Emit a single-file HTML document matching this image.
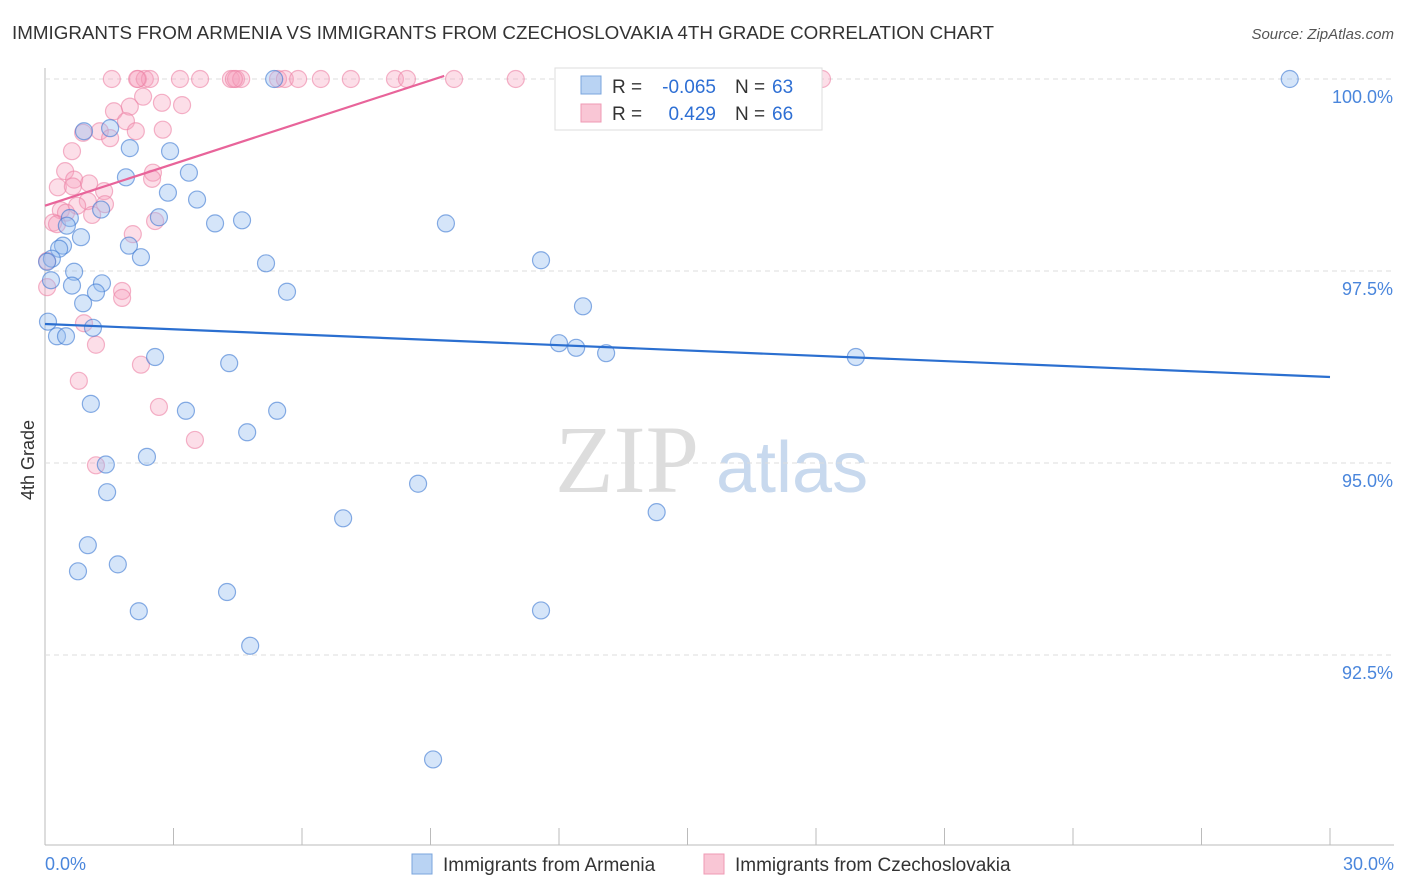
<!DOCTYPE html>
<html><head><meta charset="utf-8"><style>
body{margin:0;background:#fff;font-family:"Liberation Sans",sans-serif;}
#wrap{position:relative;width:1406px;height:892px;overflow:hidden;}
</style></head><body>
<div id="wrap">
<svg id="chart" width="1406" height="892">
<text x="12" y="39" font-size="18.8" fill="#333">IMMIGRANTS FROM ARMENIA VS IMMIGRANTS FROM CZECHOSLOVAKIA 4TH GRADE CORRELATION CHART</text>
<text x="1394" y="39" font-size="15" fill="#555" font-style="italic" text-anchor="end">Source: ZipAtlas.com</text>
<text x="34" y="460" font-size="18" fill="#333" transform="rotate(-90 34 460)" text-anchor="middle">4th Grade</text>
<text x="555" y="492" font-size="96" fill="#ddd" font-family="Liberation Serif,serif">ZIP</text>
<text x="716" y="492" font-size="72" fill="#c8d9ee">atlas</text>
<g id="grid"></g><g id="pts"></g><g id="lines"></g>
<g>
<rect x="555" y="68" width="267" height="62" fill="#fff" stroke="#ddd"/>
<rect x="581" y="76" width="20" height="18" fill="#b9d3f3" stroke="#7aa5dd"/>
<rect x="581" y="104" width="20" height="18" fill="#f9c6d5" stroke="#ef9ab4"/>
<text x="612" y="93" font-size="19" fill="#333">R =</text>
<text x="716" y="93" font-size="19" fill="#2e6fd4" text-anchor="end">-0.065</text>
<text x="735" y="93" font-size="19" fill="#333">N =</text>
<text x="772" y="93" font-size="19" fill="#2e6fd4">63</text>
<text x="612" y="120" font-size="19" fill="#333">R =</text>
<text x="716" y="120" font-size="19" fill="#2e6fd4" text-anchor="end">0.429</text>
<text x="735" y="120" font-size="19" fill="#333">N =</text>
<text x="772" y="120" font-size="19" fill="#2e6fd4">66</text>
</g>
<g>
<rect x="412" y="854" width="20" height="20" fill="#b9d3f3" stroke="#7aa5dd"/>
<text x="443" y="871" font-size="19" fill="#333">Immigrants from Armenia</text>
<rect x="704" y="854" width="20" height="20" fill="#f9c6d5" stroke="#ef9ab4"/>
<text x="735" y="871" font-size="19" fill="#333">Immigrants from Czechoslovakia</text>
</g>
</svg></div>
<script>
const xTickLabels=["0.0%","30.0%"];
const yTicks=[100,97.5,95,92.5];
const yTickLabels=["100.0%","97.5%","95.0%","92.5%"];
const blueX=[29.06,1.52,0.91,1.98,2.92,1.89,3.36,2.87,3.55,1.31,0.58,2.66,3.97,4.6,9.36,0.51,0.84,0.42,0.33,1.96,2.24,0.16,5.16,11.58,0.68,0.14,0.63,1.33,1.19,5.65,0.89,12.56,0.07,1.12,0.28,0.49,12.0,12.4,13.1,2.57,18.93,4.3,1.07,3.29,5.42,4.72,2.38,1.42,8.71,1.45,6.96,14.28,1.0,1.7,0.77,4.25,2.19,11.58,4.79,9.06,5.35,0.05];
const blueY=[100,99.36,99.32,99.1,99.06,98.72,98.78,98.52,98.43,98.3,98.19,98.2,98.12,98.16,98.12,98.09,97.94,97.83,97.79,97.83,97.68,97.66,97.6,97.64,97.49,97.38,97.31,97.34,97.22,97.23,97.08,97.04,96.84,96.76,96.65,96.65,96.56,96.5,96.43,96.38,96.38,96.3,95.77,95.68,95.68,95.4,95.08,94.98,94.73,94.62,94.28,94.36,93.93,93.68,93.59,93.32,93.07,93.08,92.62,91.14,100,97.62];
const pinkX=[1.56,2.17,2.33,2.45,3.15,3.62,4.34,4.46,4.58,5.44,5.6,5.91,6.44,7.14,8.17,8.45,9.55,10.99,18.14,2.29,1.98,2.73,3.2,1.61,1.89,1.28,2.75,2.12,0.89,1.52,0.63,2.52,0.47,2.5,0.68,1.03,0.3,0.65,1.38,1.0,1.4,0.75,0.37,0.49,1.1,2.57,0.19,0.28,2.05,0.05,1.8,1.8,0.91,1.19,2.24,0.79,2.66,3.5,1.19,0.05,2.15,4.41];
const pinkY=[100,100,100,100,100,100,100,100,100,100,100,100,100,100,100,100,100,100,100,99.77,99.64,99.69,99.66,99.58,99.45,99.32,99.34,99.32,99.3,99.23,99.06,98.78,98.8,98.7,98.69,98.64,98.59,98.6,98.54,98.41,98.37,98.35,98.29,98.26,98.23,98.15,98.13,98.11,97.98,97.63,97.24,97.15,96.82,96.54,96.28,96.07,95.73,95.3,94.97,97.29,100,100];
const blueTrend=[-0.065,96.81,96.12];
const pinkTrend=[0.429,98.35,100.04];
const X0=45,X1=1330,Y100=79,PX=76.8;
const xs=v=>X0+v/30*(X1-X0), ys=v=>Y100+(100-v)*PX;
const NS="http://www.w3.org/2000/svg";
function mk(tag,attrs,parent){const e=document.createElementNS(NS,tag);for(const k in attrs)e.setAttribute(k,attrs[k]);parent.appendChild(e);return e;}
const grid=document.getElementById('grid');
mk('line',{x1:X0,y1:68,x2:X0,y2:845,stroke:'#bbb'},grid);
mk('line',{x1:X0,y1:845,x2:1394,y2:845,stroke:'#bbb'},grid);
yTicks.forEach((t,i)=>{
 const g=mk('line',{x1:X0,y1:ys(t),x2:1394,y2:ys(t),stroke:'#ddd','stroke-dasharray':'5,4'},grid);
 
 
 const tx=mk('text',{x:1393,y:ys(t)+24,'font-size':18,fill:'#4a86dc','text-anchor':'end'},grid);
 tx.textContent=yTickLabels[i];
 
 
});
for(let i=1;i<=10;i++){const x=xs(i*3);const l=mk('line',{x1:x,y1:828,x2:x,y2:845,stroke:'#bbb'},grid);
 
 }
[[0,'start',X0],[1,'end',1394]].forEach(([i,a,x])=>{const t=mk('text',{x:x,y:870,'font-size':18,fill:'#4a86dc','text-anchor':a},grid);t.textContent=xTickLabels[i];
 
 });
const pts=document.getElementById('pts');
pinkX.forEach((v,i)=>{const c=mk('circle',{cx:xs(v),cy:ys(pinkY[i]),r:8.5,fill:'rgba(245,160,188,0.35)',stroke:'rgba(236,130,165,0.6)','stroke-width':1.2},pts);
 
 });
blueX.forEach((v,i)=>{const c=mk('circle',{cx:xs(v),cy:ys(blueY[i]),r:8.5,fill:'rgba(150,190,240,0.4)',stroke:'rgba(60,120,210,0.6)','stroke-width':1.2},pts);
 
 });
const ln=document.getElementById('lines');
const b=mk('line',{x1:xs(0),y1:ys(blueTrend[1]),x2:xs(30),y2:ys(blueTrend[2]),stroke:'#2b6fd0','stroke-width':2.2},ln);


const p=mk('line',{x1:xs(0),y1:ys(pinkTrend[1]),x2:xs(9.32),y2:ys(pinkTrend[2]),stroke:'#e8649a','stroke-width':2.2},ln);


</script>
</body></html>
